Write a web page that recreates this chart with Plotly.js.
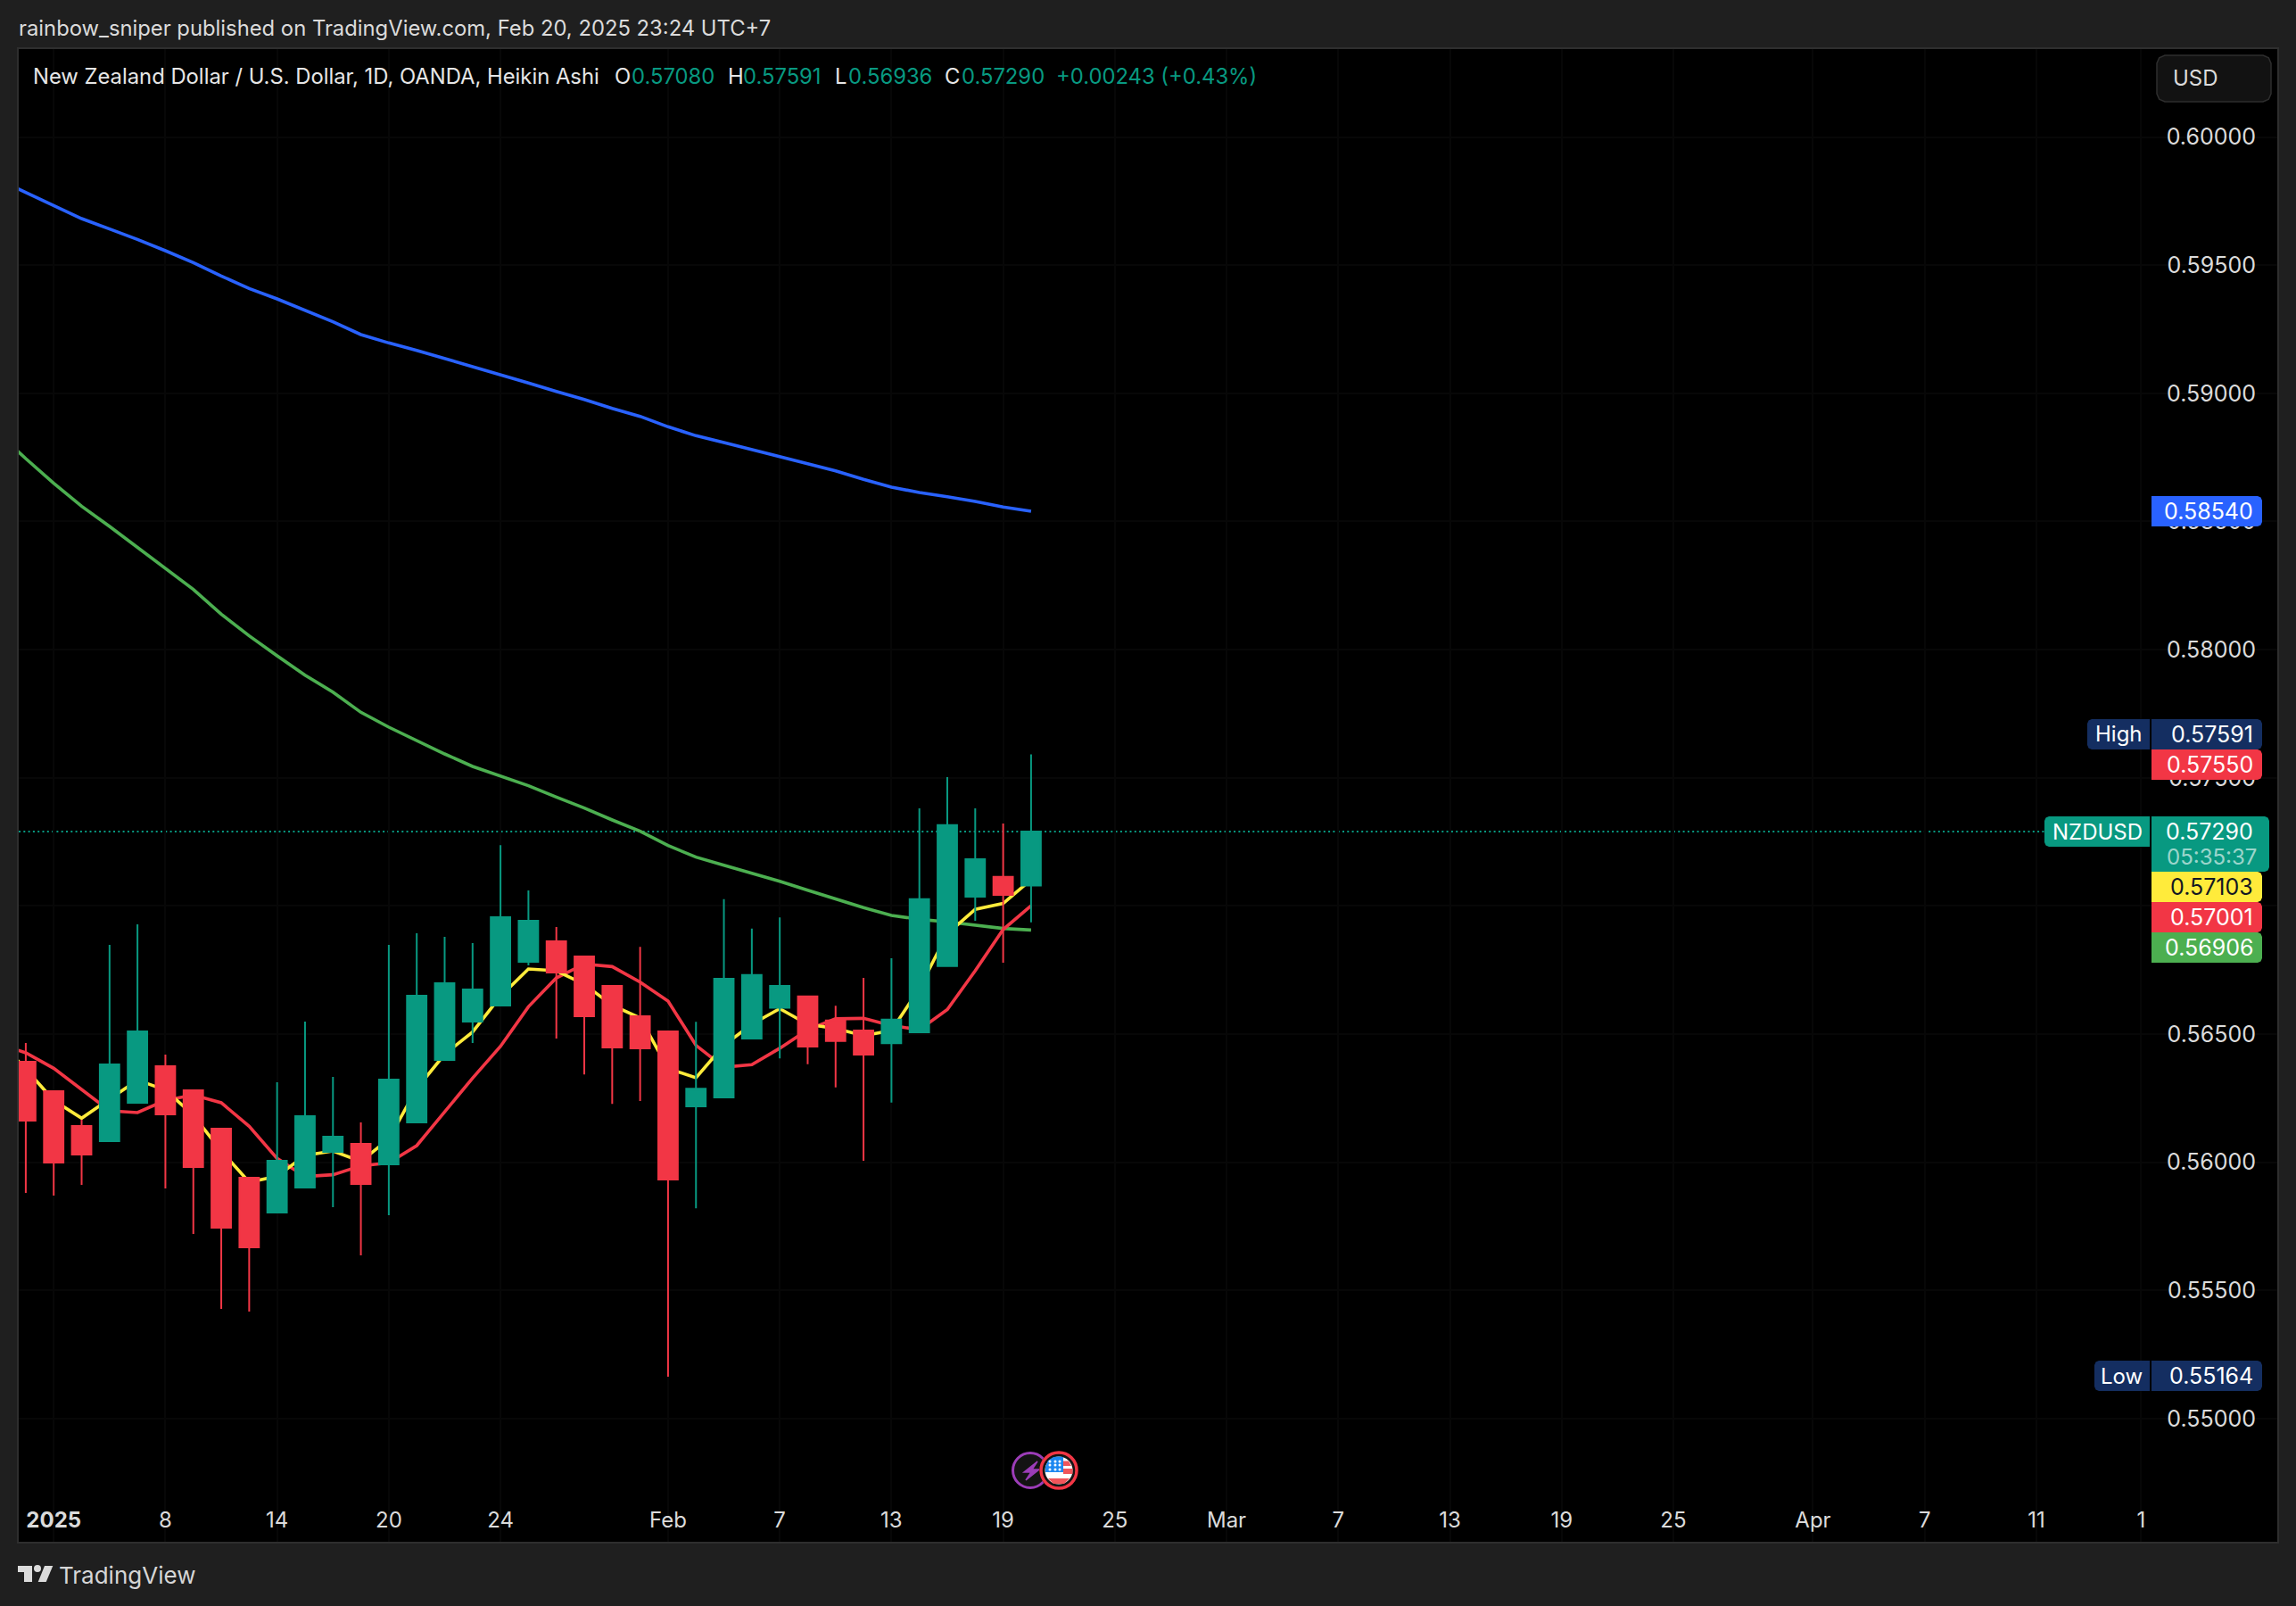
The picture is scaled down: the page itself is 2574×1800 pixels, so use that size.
<!DOCTYPE html>
<html><head><meta charset="utf-8">
<script src="https://cdn.plot.ly/plotly-3.0.1.min.js"></script>
<style>html,body{margin:0;padding:0;background:#1f1f1f}#chart{width:2574px;height:1800px}</style>
</head><body><div id="chart"></div>
<script>
// ---- data ----
const sessions = [0,1,2,3,4,5,6,7,8,9,10,11,12,13,14,15,16,17,18,19,20,21,22,23,24,25,26,27,28,29,30,31,32,33,34,35,36];
const haOpen  = [.563923,.562774,.561417,.560825,.562322,.563749,.562809,.561312,.559398,.558041,.559015,.560407,.560721,.55992,.561556,.563992,.565489,.566116,.567821,.568621,.56803,.56688,.565697,.565106,.562182,.562527,.564826,.566026,.566469,.565533,.565139,.564646,.565073,.567652,.570362,.571134,.5708];
const haHigh  = [.564654,.562774,.56166,.568482,.569283,.564201,.562809,.561312,.559398,.563122,.565489,.563331,.561556,.568482,.568935,.568796,.568552,.57237,.570605,.569179,.56803,.56688,.568407,.565106,.565483,.570263,.569114,.569557,.566469,.566108,.567192,.567964,.573811,.575027,.573811,.57322,.57591];
const haLow   = [.558806,.558702,.55912,.560825,.562322,.55898,.557205,.554282,.554177,.558041,.559015,.558249,.55637,.557936,.561556,.563992,.564654,.566116,.567682,.564826,.56343,.562281,.562395,.55164,.558207,.562527,.564826,.564054,.563824,.562921,.560063,.56233,.565073,.567652,.569426,.567783,.56936];
const haClose = [.561626,.55999,.560303,.563818,.565106,.561869,.559816,.557449,.556683,.560059,.5618,.560999,.559154,.563227,.566499,.566986,.566742,.569561,.569422,.567405,.565697,.564481,.564449,.559324,.562871,.567159,.567307,.56688,.564514,.564728,.564202,.565566,.570263,.573154,.571824,.570428,.5729];
const maSessions = [-1,0,1,2,3,4,5,6,7,8,9,10,11,12,13,14,15,16,17,18,19,20,21,22,23,24,25,26,27,28,29,30,31,32,33,34,35,36];
const yellowMA = [.564793,.563633,.562415,.561718,.562472,.563204,.562821,.561834,.560442,.559224,.559456,.560268,.560442,.560036,.560906,.562879,.564213,.565083,.566475,.567543,.567471,.566945,.566124,.565631,.56366,.563299,.564564,.565385,.565993,.565385,.565221,.564941,.565138,.566781,.568916,.569869,.570099,.57103];
const redMA    = [.564619,.564271,.563668,.562821,.562009,.561939,.562415,.562623,.562322,.561405,.560152,.559445,.559514,.559862,.559978,.560651,.56195,.563285,.564526,.566069,.567192,.567734,.567635,.567028,.566288,.564564,.563709,.563808,.564449,.565171,.565598,.565615,.565336,.565171,.565959,.567471,.569081,.57001];
const greenMA  = [.588461,.587452,.586489,.585595,.584806,.583994,.583182,.582347,.581384,.580537,.57976,.579005,.578344,.577555,.576975,.576453,.575931,.575444,.575061,.57469,.574249,.573819,.573355,.572914,.572358,.571905,.571592,.57129,.570965,.570617,.570281,.569933,.569631,.56948,.569376,.56926,.569121,.56906];
const blueMA   = [.598346,.597836,.597302,.596815,.596409,.596003,.595562,.595098,.594576,.594088,.593682,.593241,.592789,.59229,.591965,.591675,.591362,.591048,.590745,.5904,.590073,.589761,.589413,.5891,.588694,.588345,.588079,.587812,.587533,.587255,.586976,.58664,.586338,.586129,.585967,.585781,.585561,.5854];
const xTickSessions = [1,5,9,13,17,23,27,31,35,39,43,47,51,55,59,64,68,72,75.75];
const xTickLabels = ['<b>2025</b>','8','14','20','24','Feb','7','13','19','25','Mar','7','13','19','25','Apr','7','11','1'];
const lastClose = 0.5729;
const headerText = 'rainbow_sniper published on TradingView.com, Feb 20, 2025 23:24 UTC+7';
const legendTitle = 'New Zealand Dollar / U.S. Dollar, 1D, OANDA, Heikin Ashi';

// ---- layout helpers ----
const FONT='Inter, "Noto Sans", sans-serif';
const L=21,R=2553,T=55,B=1728, W=R-L,H=B-T;
const X=p=>(p-L)/W, Y=p=>1-(p-T)/H;
const UP='#089981',DN='#F23645',NAVY='#142E61',BLUE='#2962FF',GREEN='#4CAF50',YEL='#FFEB3B';
const ptStr=(x,y)=>X(x).toFixed(6)+','+Y(y).toFixed(6);
function rrect(x0,y0,x1,y1,rl,rr){ // rounded rectangle as paper path
  let d='M'+ptStr(x0+rl,y0)+' L'+ptStr(x1-rr,y0);
  if(rr) d+=' L'+ptStr(x1-rr*.3,y0+rr*.3)+' L'+ptStr(x1,y0+rr);
  d+=' L'+ptStr(x1,y1-rr);
  if(rr) d+=' L'+ptStr(x1-rr*.3,y1-rr*.3)+' L'+ptStr(x1-rr,y1);
  d+=' L'+ptStr(x0+rl,y1);
  if(rl) d+=' L'+ptStr(x0+rl*.3,y1-rl*.3)+' L'+ptStr(x0,y1-rl);
  d+=' L'+ptStr(x0,y0+rl);
  if(rl) d+=' L'+ptStr(x0+rl*.3,y0+rl*.3)+' L'+ptStr(x0+rl,y0);
  return d+' Z';
}
const shapes=[], annotations=[];
const pathShape=(d,fill,line,lw)=>shapes.push({type:'path',xref:'paper',yref:'paper',path:d,fillcolor:fill,line:{color:line||fill,width:lw===undefined?0:lw},layer:'above'});
const circle=(cx,cy,r,fill,line,lw)=>shapes.push({type:'circle',xref:'paper',yref:'paper',x0:X(cx-r),x1:X(cx+r),y0:Y(cy+r),y1:Y(cy-r),fillcolor:fill,line:{color:line||fill,width:lw||0},layer:'above'});
const text=(t,x,y,color,size,anchor)=>annotations.push({text:t,xref:'paper',yref:'paper',x:X(x),y:Y(y),xanchor:anchor||'left',yanchor:'middle',showarrow:false,font:{family:FONT,size:size||24,color:color},borderpad:0});

// black strips hide the grid under the scales
shapes.push({type:'rect',xref:'paper',yref:'paper',x0:X(2410),x1:1,y0:0,y1:1,fillcolor:'#000',line:{width:0},layer:'below'});
shapes.push({type:'rect',xref:'paper',yref:'paper',x0:0,x1:1,y0:0,y1:Y(1673),fillcolor:'#000',line:{width:0},layer:'below'});
// last price line
shapes.push({type:'line',xref:'paper',yref:'y',x0:0,x1:X(2292),y0:lastClose,y1:lastClose,line:{color:UP,width:2,dash:'2px,3.3px'},layer:'below'});

// header + legend
text(headerText,20,32,'#dbdbdb',23.8);
text(legendTitle,36,86,'#e6e6e6',23.8);
[['O',688,'0.57080',707],['H',815,'0.57591',832],['L',935,'0.56936',950],['C',1058,'0.57290',1077]].forEach(a=>{
  text(a[0],a[1],86,'#e6e6e6',23.8); text(a[2],a[3],86,UP,23.8);
});
text('+0.00243 (+0.43%)',1183,86,UP,23.8);

// USD box
pathShape(rrect(2418,62,2546,114,9,9),'#121212','#2e2e2e',1.5);
text('USD',2435,88,'#dbdbdb',24);

// price tags
const VS=25;
const tag=(y0,y1,x1,col)=>pathShape(rrect(2412,y0,x1,y1,0,5),col);
const side=(x0,y0,y1,col)=>pathShape(rrect(x0,y0,2410,y1,5,0),col);
tag(556,590,2536,BLUE);   text('0.58540',2527,573,'#fff',VS,'right');
side(2340,806,840,NAVY);  text('High',2403,823,'#fff',24,'right');
tag(806,840,2536,NAVY);   text('0.57591',2527,823,'#fff',VS,'right');
tag(840,874,2536,DN);     text('0.57550',2527,857,'#fff',VS,'right');
side(2292,915,949,UP);    text('NZDUSD',2403,932,'#fff',24,'right');
tag(915,977,2544,UP);     text('0.57290',2527,932,'#fff',VS,'right');
text('05:35:37',2428,960,'rgba(255,255,255,0.62)',24);
tag(977,1011,2536,YEL);   text('0.57103',2527,994,'#131722',VS,'right');
tag(1011,1045,2536,DN);   text('0.57001',2527,1028,'#fff',VS,'right');
tag(1045,1079,2536,GREEN);text('0.56906',2527,1062,'#fff',VS,'right');
side(2348,1525,1559,NAVY);text('Low',2403,1542,'#fff',24,'right');
tag(1525,1559,2536,NAVY); text('0.55164',2527,1542,'#fff',VS,'right');

// event markers
const poly=pts=>'M'+pts.map(p=>ptStr(p[0],p[1])).join(' L')+' Z';
circle(1155,1648,19.5,'#131313','#9C3DB8',3);
pathShape(poly([[1163,1638],[1148,1650],[1156,1650],[1150,1659],[1165,1647],[1157,1647]]),'#9C3DB8','#9C3DB8',1.5);
circle(1187,1648,22,'#000','#000',0);
circle(1187,1648,20,'#151515',DN,3.5);
circle(1187,1648,15.5,'#ffffff');
pathShape(poly([[1192,1637.5],[1198,1637.5],[1201,1643],[1192,1643]]),'#F0555A');
pathShape(poly([[1192,1646],[1202.5,1646],[1202.5,1652],[1192,1652]]),'#F0555A');
pathShape(poly([[1175,1657],[1199,1657],[1193,1663],[1181,1663]]),'#F0555A');
pathShape(poly([[1172,1650],[1172,1644],[1175,1637],[1181,1633],[1187,1632.5],[1192,1633],[1192,1650]]),'#1E88F0');
[[1177,1638],[1183,1638],[1188,1638],[1177,1642],[1183,1642],[1188,1642],[1177,1647],[1183,1647],[1188,1647]].forEach(p=>circle(p[0],p[1],1.5,'#fff'));

// TradingView logo
pathShape(poly([[20,1755],[36,1755],[36,1773],[27,1773],[27,1762],[20,1762]]),'#dbdbdb');
circle(42,1758,4,'#dbdbdb');
pathShape(poly([[59.3,1755],[51.7,1773],[42.7,1773],[50,1755]]),'#dbdbdb');
text('TradingView',65,1766,'#d6d6d6',26);

const yRange=[0.6-(B-153.5)/28730, 0.6+(153.5-T)/28730];
const xRange=[(L-28.9)/31.306,(R-28.9)/31.306];
const ln=(name,y,color)=>({type:'scatter',mode:'lines',name,x:maSessions,y,line:{color,width:3.6},xaxis:'x',yaxis:'y',hoverinfo:'skip'});
const traces=[
  ln('MA long',blueMA,BLUE), ln('MA mid',greenMA,GREEN), ln('MA fast',redMA,DN), ln('MA faster',yellowMA,YEL),
  {type:'candlestick',name:'NZDUSD',x:sessions,open:haOpen,high:haHigh,low:haLow,close:haClose,xaxis:'x',yaxis:'y2',
   whiskerwidth:0,increasing:{line:{color:UP,width:2},fillcolor:UP},decreasing:{line:{color:DN,width:2},fillcolor:DN}}
];
const layout={
  width:2574,height:1800,margin:{l:L,r:2574-R,t:T,b:1800-B,pad:0},
  paper_bgcolor:'#1f1f1f',plot_bgcolor:'#000',showlegend:false,boxgap:0.15,boxgroupgap:0.18,hovermode:false,
  xaxis:{type:'linear',range:xRange,tickmode:'array',tickvals:xTickSessions,ticktext:xTickLabels,
    ticklabelposition:'inside',ticks:'inside',ticklen:13,tickcolor:'rgba(0,0,0,0)',tickfont:{family:FONT,size:24,color:'#dbdbdb'},
    showgrid:true,gridcolor:'#070707',gridwidth:2,zeroline:false,showline:true,mirror:true,linecolor:'#2e2e2e',linewidth:2,rangeslider:{visible:false}},
  yaxis:{type:'linear',side:'right',range:yRange,tick0:0.55,dtick:0.005,tickformat:'.5f',
    ticklabelposition:'inside',ticks:'inside',ticklen:26,tickcolor:'rgba(0,0,0,0)',tickfont:{family:FONT,size:25,color:'#dbdbdb'},
    showgrid:true,gridcolor:'#070707',gridwidth:2,zeroline:false,showline:true,mirror:true,linecolor:'#2e2e2e',linewidth:2},
  yaxis2:{overlaying:'y',side:'right',range:yRange,visible:false},
  shapes,annotations
};
Plotly.newPlot('chart',traces,layout,{displayModeBar:false,staticPlot:true});
</script></body></html>
